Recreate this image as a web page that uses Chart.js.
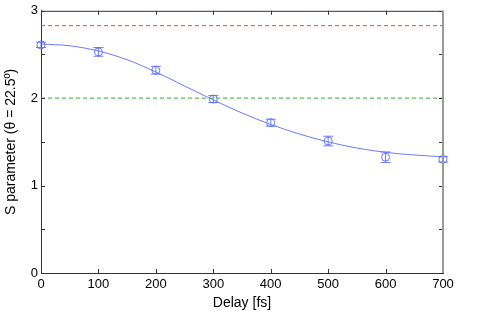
<!DOCTYPE html>
<html>
<head>
<meta charset="utf-8">
<script src="https://cdn.jsdelivr.net/npm/chart.js@4"></script>
<style>
  html, body { margin: 0; padding: 0; background: #fff; }
  canvas { display: block; }
</style>
</head>
<body>
<canvas id="sChart" width="501" height="314"></canvas>
<script>
// measured S parameter vs delay
const delays = [0, 100, 200, 300, 400, 500, 600, 700];
const sValues = [2.61, 2.53, 2.32, 1.99, 1.72, 1.51, 1.325, 1.30];
const sErrors = [0.03, 0.05, 0.045, 0.04, 0.04, 0.055, 0.06, 0.03];

// fitted curve
const fitDelays = [0, 50, 100, 150, 200, 250, 300, 350, 400, 450, 500, 550, 600, 650, 700];
const fitValues = [2.62, 2.60, 2.54, 2.44, 2.30, 2.14, 1.98, 1.83, 1.70, 1.59, 1.50, 1.43, 1.38, 1.35, 1.33];

// reference levels
const upperLevel = 2.83;
const classicalLevel = 2.0;
const xRange = [0, 700];
const yRange = [0, 3];

const blue = 'rgba(90, 110, 255, 0.9)';
const font = 'Liberation Sans, Arial, sans-serif';

// error bars for the measured points
const errorBars = {
    id: 'errorBars',
    afterDatasetsDraw(chart) {
        const ctx = chart.ctx;
        const xs = chart.scales.x, ys = chart.scales.y;
        ctx.save();
        ctx.strokeStyle = blue;
        ctx.lineWidth = 1;
        delays.forEach((d, i) => {
            const px = xs.getPixelForValue(d);
            const top = ys.getPixelForValue(sValues[i] + sErrors[i]);
            const bot = ys.getPixelForValue(sValues[i] - sErrors[i]);
            ctx.beginPath();
            ctx.moveTo(px, top); ctx.lineTo(px, bot);
            ctx.moveTo(px - 5, top); ctx.lineTo(px + 5, top);
            ctx.moveTo(px - 5, bot); ctx.lineTo(px + 5, bot);
            ctx.stroke();
        });
        ctx.restore();
    }
};

// box frame with inward ticks
const frame = {
    id: 'frame',
    afterDraw(chart) {
        const ctx = chart.ctx;
        const a = chart.chartArea;
        const xs = chart.scales.x, ys = chart.scales.y;
        ctx.save();
        ctx.strokeStyle = '#333';
        ctx.lineWidth = 1;
        ctx.beginPath();
        ctx.moveTo(a.left, a.top + 0.5); ctx.lineTo(a.right, a.top + 0.5);
        xs.ticks.forEach(t => {
            const px = Math.round(xs.getPixelForValue(t.value)) + 0.5;
            ctx.moveTo(px, a.bottom); ctx.lineTo(px, a.bottom - 4);
            ctx.moveTo(px, a.top); ctx.lineTo(px, a.top + 4);
        });
        ys.ticks.forEach(t => {
            const py = Math.round(ys.getPixelForValue(t.value)) + 0.5;
            ctx.moveTo(a.left, py); ctx.lineTo(a.left + 4, py);
            ctx.moveTo(a.right, py); ctx.lineTo(a.right - 4, py);
        });
        ctx.stroke();
        ctx.strokeStyle = '#999';
        ctx.lineWidth = 2;
        ctx.beginPath();
        ctx.moveTo(a.right, a.top); ctx.lineTo(a.right, a.bottom);
        ctx.stroke();
        ctx.restore();
    }
};

new Chart(document.getElementById('sChart').getContext('2d'), {
    type: 'scatter',
    data: {
        datasets: [{
            data: xRange.map(x => ({ x: x, y: upperLevel })),
            showLine: true,
            borderColor: '#ff3b3b',
            borderWidth: 1,
            borderDash: [4, 3],
            pointRadius: 0
        }, {
            data: xRange.map(x => ({ x: x, y: classicalLevel })),
            showLine: true,
            borderColor: '#5cbf5c',
            borderWidth: 1.2,
            borderDash: [4, 3],
            pointRadius: 0
        }, {
            data: fitDelays.map((d, i) => ({ x: d, y: fitValues[i] })),
            showLine: true,
            borderColor: blue,
            borderWidth: 1,
            cubicInterpolationMode: 'monotone',
            pointRadius: 0
        }, {
            data: delays.map((d, i) => ({ x: d, y: sValues[i] })),
            pointStyle: 'circle',
            pointRadius: 4,
            pointBorderWidth: 1,
            pointBorderColor: blue,
            pointBackgroundColor: 'rgba(0,0,0,0)'
        }]
    },
    options: {
        responsive: false,
        animation: false,
        clip: false,
        layout: { padding: { left: 0, right: 58, top: 9, bottom: 0 } },
        scales: {
            x: {
                type: 'linear',
                min: xRange[0],
                max: xRange[1],
                grid: { display: false, drawTicks: false },
                border: { display: true, color: '#333', width: 1 },
                ticks: {
                    stepSize: 100,
                    padding: 4,
                    color: '#000',
                    font: { family: font, size: 13 }
                },
                title: {
                    display: true,
                    text: 'Delay [fs]',
                    color: '#000',
                    padding: { top: 2, bottom: 2 },
                    font: { family: font, size: 14 }
                },
                afterFit: function(scale) { scale.height = 41; }
            },
            y: {
                min: yRange[0],
                max: yRange[1],
                grid: { display: false, drawTicks: false },
                border: { display: true, color: '#333', width: 1 },
                ticks: {
                    stepSize: 0.5,
                    padding: 3,
                    color: '#000',
                    font: { family: font, size: 13 },
                    callback: function(value) {
                        return Number.isInteger(value) ? value : '';
                    }
                },
                title: {
                    display: true,
                    text: 'S parameter (θ = 22.5º)',
                    color: '#000',
                    padding: { top: 3, bottom: 2 },
                    font: { family: font, size: 14 }
                },
                afterFit: function(scale) { scale.width = 41; }
            }
        },
        plugins: {
            legend: { display: false },
            tooltip: { enabled: false }
        }
    },
    plugins: [errorBars, frame]
});
</script>
</body>
</html>
